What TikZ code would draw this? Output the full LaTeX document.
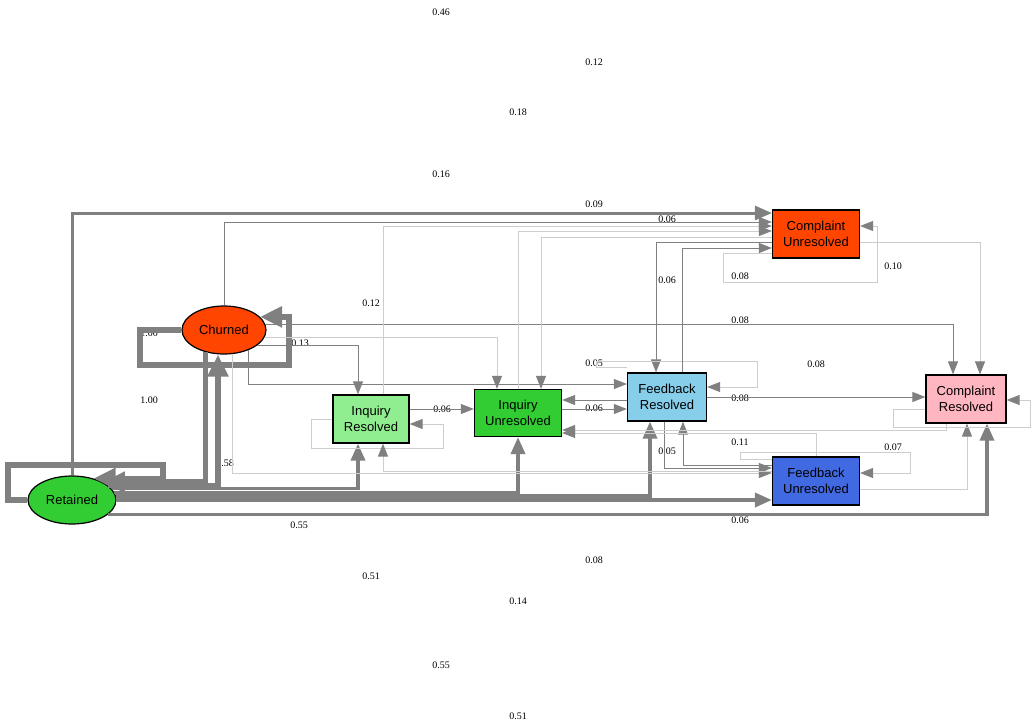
\documentclass[tikz,border=0pt]{standalone}
\usepackage{fontspec}
\setmainfont{Liberation Serif}
\newfontfamily\statefont{Liberation Sans}
\usepackage{tikz}
\usetikzlibrary{arrows.meta, shapes.geometric}
\definecolor{OrangeRed}{HTML}{FF4500}
\definecolor{LimeGreen}{HTML}{32CD32}
\definecolor{LightGreen}{HTML}{90EE90}
\definecolor{SkyBlue}{HTML}{87CEEB}
\definecolor{RoyalBlue}{HTML}{4169E1}
\definecolor{LightPink}{HTML}{FFB6C1}
\definecolor{EdgeGray}{HTML}{808080}
\definecolor{PaleGray}{HTML}{CDCDCD}

\begin{document}
\begin{tikzpicture}[x=1pt, y=-1pt,
  state/.style={draw, line width=1.2pt, align=center, inner sep=0pt,
    font=\statefont\fontsize{13}{15.5}\selectfont},
  oval/.style={state, ellipse, minimum width=84pt, minimum height=48pt},
  box/.style={state, rectangle, minimum width=80pt, minimum height=48pt},
  prob/.style={inner sep=0pt, font=\fontsize{10}{12}\selectfont},
  tr/.style={draw=EdgeGray, line width=0.9pt, -{Triangle[length=13pt,width=10pt,color=EdgeGray]}},
  pale/.style={tr, draw=PaleGray},
  mid/.style={draw=EdgeGray, line width=3.5pt, -{Triangle[length=17pt,width=14pt]}},
  heavy/.style={draw=EdgeGray, line width=5.5pt, -{Triangle[length=22pt,width=20pt]}}]
\useasboundingbox (0,0) rectangle (1036,728);

\node[prob] (pA) at (441,12) {0.46};
\node[prob] (pB) at (594,62) {0.12};
\node[prob] (pC) at (518,112) {0.18};
\node[prob] (pD) at (441,174) {0.16};
\node[prob] (pE) at (594,204) {0.09};
\node[prob] (pF) at (667,219) {0.06};
\node[prob] (pG) at (371,303) {0.12};
\node[prob] (pH) at (149,333) {1.00};
\node[prob] (pI) at (300,343) {0.13};
\node[prob] (pJ) at (740,320) {0.08};
\node[prob] (pK) at (893,266) {0.10};
\node[prob] (pL) at (740,276) {0.08};
\node[prob] (pM) at (667,280) {0.06};
\node[prob] (pN) at (594,363) {0.05};
\node[prob] (pO) at (816,364) {0.08};
\node[prob] (pP) at (149,400) {1.00};
\node[prob] (pQ) at (442,409) {0.06};
\node[prob] (pR) at (594,408) {0.06};
\node[prob] (pS) at (740,398) {0.08};
\node[prob] (pT) at (740,442) {0.11};
\node[prob] (pU) at (893,447) {0.07};
\node[prob] (pV) at (667,451) {0.05};
\node[prob] (pW) at (225,463) {0.58};
\node[prob] (pX) at (299,525) {0.55};
\node[prob] (pY) at (740,520) {0.06};
\node[prob] (pZ) at (594,560) {0.08};
\node[prob] (pAA) at (371,576) {0.51};
\node[prob] (pAB) at (518,601) {0.14};
\node[prob] (pAC) at (441,665) {0.55};
\node[prob] (pAD) at (518,716) {0.51};

\node[oval, fill=OrangeRed] (Ch) at (224,330) {Churned};
\node[oval, fill=LimeGreen, minimum width=88pt] (Rt) at (72,500) {Retained};
\node[box, fill=LightGreen, minimum width=76pt] (IR) at (371,419) {Inquiry\\Resolved};
\node[box, fill=LimeGreen, minimum width=87pt, minimum height=47pt] (IU) at (518,413) {Inquiry\\Unresolved};
\node[box, fill=SkyBlue, minimum width=79pt] (FR) at (667,397) {Feedback\\Resolved};
\node[box, fill=OrangeRed, minimum width=87pt] (CU) at (816,234) {Complaint\\Unresolved};
\node[box, fill=LightPink] (CR) at (966,399) {Complaint\\Resolved};
\node[box, fill=RoyalBlue, minimum width=87pt] (FU) at (816,481) {Feedback\\Unresolved};

\draw[heavy] (Ch.west) -- (140,330) |- (289,365) |- (Ch.20);
\draw[heavy] (Rt.west) -- (8,500) |- (163,465) |- (Rt.45);
\draw[heavy] (Ch.-130) |- (Rt.30);
\draw[heavy] (Rt.22) -| ([xshift=-6pt]Ch.south);
\draw[mid] (Rt.16) -| ([xshift=-13pt]IR.south);
\draw[mid] (Rt.10) -| (IU.south);
\draw[mid] (Rt.5) -| ([xshift=-17pt]FR.south);
\draw[mid] (Rt.east) -- (FU.west |- Rt.east);
\draw[mid] (Rt.-22) -| ([xshift=21pt]CR.south);
\draw[mid, line width=3pt] (Rt.north) |- ([yshift=21pt]CU.west);

\draw[tr] (Ch.north) |- ([yshift=12pt]CU.west);
\draw[tr] (Ch.-25) -| ([xshift=-13pt]IR.north);
\draw[pale] (Ch.-10) -| ([xshift=-21pt]IU.north);
\draw[tr] (Ch.8) -| ([xshift=-13pt]CR.north);
\draw[tr] (Ch.-40) |- ([yshift=13pt]FR.west);
\draw[pale] (Ch.-70) |- ([yshift=8pt]FU.west);

\draw[pale] (IR.west) -- ++(-21,0) |- (443,448) |- ([yshift=-5pt]IR.east);
\draw[tr] ([yshift=10pt]IR.east) -- ([yshift=4pt]IU.west);
\draw[pale] ([xshift=12pt]IR.north) |- ([yshift=8pt]CU.west);

\draw[tr] ([yshift=4pt]IU.east) -- ([yshift=-12pt]FR.west);
\draw[pale] (IU.north) |- ([yshift=3pt]CU.west);

\draw[pale] ([yshift=-3pt]CU.west) -| ([xshift=23pt]IU.north);
\draw[tr] ([yshift=-8pt]CU.west) -| ([xshift=-11pt]FR.north);
\draw[pale] ([yshift=-19pt]CU.west) -| (723,282) -| (877,226) -- ([yshift=8pt]CU.east);
\draw[pale] ([yshift=-8pt]CU.east) -| ([xshift=14pt]CR.north);

\draw[tr] ([yshift=-3pt]FR.west) -- ([yshift=13pt]IU.east);
\draw[pale] ([yshift=5pt]FR.north west) -| (596,361) -| (757,387) -- ([yshift=10pt]FR.east);
\draw[tr] ([xshift=15pt]FR.north) |- ([yshift=-14pt]CU.west);
\draw[tr] (FR.east) -- (CR.west |- FR.east);
\draw[tr] ([xshift=-3pt]FR.south) |- ([yshift=13pt]FU.west);

\draw[tr] ([yshift=16pt]FU.west) -| ([xshift=16pt]FR.south);
\draw[pale] ([yshift=10pt]FU.west) -| ([xshift=12pt]IR.south);
\draw[pale] (FU.north) |- ([yshift=-20pt]IU.east);
\draw[pale] ([yshift=22pt]FU.west) -| (740,452) -| (910,473) -- ([yshift=8pt]FU.east);
\draw[pale] ([yshift=-8pt]FU.east) -| ([xshift=1pt]CR.south);

\draw[pale] ([xshift=-20pt]CR.south) |- ([yshift=-17pt]IU.east);
\draw[pale] ([yshift=-10pt]CR.west) -| (893,427) -| (1030,400) -- ([yshift=-1pt]CR.east);
\end{tikzpicture}
\end{document}
